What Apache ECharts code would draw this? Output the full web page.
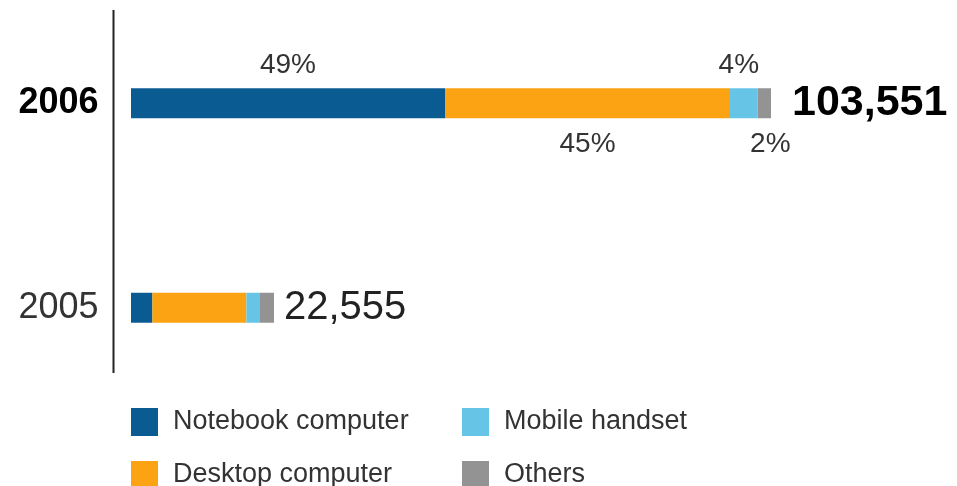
<!DOCTYPE html>
<html>
<head>
<meta charset="utf-8">
<script src="https://cdn.jsdelivr.net/npm/echarts@6/dist/echarts.min.js"></script>
<style>
  html, body { margin: 0; padding: 0; background: #fff; }
  #chart { width: 957px; height: 486px; }
</style>
</head>
<body>
<div id="chart"></div>
<script>
// categories, top to bottom
var years = ['2006', '2005']
var seriesNames = ['Notebook computer', 'Desktop computer', 'Mobile handset', 'Others']
// segment values
var notebook = [50805, 3460]
var desktop = [46113, 15210]
var mobile = [4482, 2200]
var others = [2151, 2265]
var totals = ['103,551', '22,555']
var shares2006 = ['49%', '45%', '4%', '2%']

var colors = ['#0b5b93', '#fba312', '#66c5e7', '#939393']
var font = '"Liberation Sans", Arial, Helvetica, sans-serif'

// 2006 share labels alternate above / below the bar
var shareSide = ['top', 'bottom', 'top', 'bottom']
var shareOffset = [[0, 0], [0, 0], [-5, 0], [6, 0]]

function makeSeries(i, values) {
  return {
    name: seriesNames[i],
    type: 'bar',
    stack: 'total',
    barWidth: 30,
    itemStyle: { color: colors[i] },
    data: values.map(function(v, j) {
      if (j !== 0) return v
      return {
        value: v,
        label: {
          show: true,
          position: shareSide[i],
          distance: shareSide[i] === 'top' ? 9 : 12,
          offset: shareOffset[i],
          formatter: shares2006[i],
          fontSize: 28,
          fontFamily: font,
          color: '#333'
        }
      }
    })
  }
}

var series = [
  makeSeries(0, notebook),
  makeSeries(1, desktop),
  makeSeries(2, mobile),
  makeSeries(3, others),
  {
    // zero-width carrier for the total labels at the end of each stack
    name: 'Total',
    type: 'bar',
    stack: 'total',
    barWidth: 30,
    itemStyle: { color: 'transparent' },
    data: years.map(function(y, j) {
      return {
        value: 0,
        label: {
          show: true,
          position: 'right',
          distance: j === 0 ? 21 : 10,
          formatter: totals[j],
          fontFamily: font,
          fontSize: j === 0 ? 43 : 40,
          fontWeight: j === 0 ? 'bold' : 'normal',
          color: j === 0 ? '#000' : '#222'
        }
      }
    })
  }
]

// legend is a 2x2 block: one legend per entry so each sits where it should
var legendSpots = [[131, 408], [131, 461], [462, 408], [462, 461]]
var legends = seriesNames.map(function(name, i) {
  return {
    data: [name],
    left: legendSpots[i][0],
    top: legendSpots[i][1],
    padding: 0,
    icon: 'rect',
    itemWidth: 27,
    itemHeight: 28,
    textStyle: { fontSize: 27, fontFamily: font, color: '#333', padding: [0, 0, 0, 10] }
  }
})

var chart = echarts.init(document.getElementById('chart'))
chart.setOption({
  animation: false,
  backgroundColor: '#fff',
  grid: {
    left: 131,
    right: 186,
    top: 1,
    height: 409
  },
  xAxis: {
    type: 'value',
    min: 0,
    max: 103551,
    show: false
  },
  yAxis: {
    type: 'category',
    data: years,
    inverse: true,
    offset: 17.5,
    axisLine: { show: false },
    axisTick: { show: false },
    axisLabel: {
      margin: 15,
      formatter: function(v) {
        return v === years[0] ? '{b|' + v + '}' : '{r|' + v + '}'
      },
      rich: {
        b: { fontSize: 36, fontWeight: 'bold', color: '#000', fontFamily: font },
        r: { fontSize: 36, color: '#333', fontFamily: font }
      }
    }
  },
  legend: legends,
  graphic: [
    {
      type: 'line',
      shape: { x1: 113.5, y1: 10, x2: 113.5, y2: 373 },
      style: { stroke: '#222', lineWidth: 2 }
    }
  ],
  series: series
})
</script>
</body>
</html>
